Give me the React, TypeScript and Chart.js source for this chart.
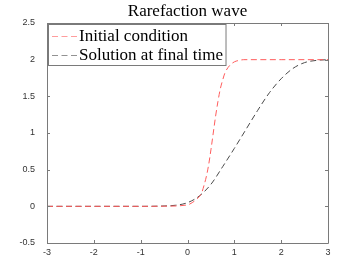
import React, { useEffect, useRef } from "react";
import { Chart, registerables } from "chart.js";

Chart.register(...registerables);

const titleText = "Rarefaction wave";
const seriesLabels = ["Initial condition", "Solution at final time"];
const seriesColors = ["#ff5c5c", "#4a4a4a"];

const initialX = [-3, -2, -1, -0.5, 0, 0.1, 0.2, 0.3, 0.35, 0.4, 0.45, 0.5, 0.55, 0.6, 0.65, 0.7, 0.75, 0.8, 0.9, 1.0, 1.1, 1.2, 1.5, 2, 3];
const initialY = [0, 0, 0, 0.002, 0.02, 0.05, 0.1, 0.18, 0.28, 0.4, 0.56, 0.77, 1.0, 1.23, 1.43, 1.6, 1.72, 1.82, 1.92, 1.97, 1.99, 2.0, 2.0, 2.0, 2.0];

const finalX = [-3, -2, -1, -0.5, -0.25, 0, 0.25, 0.5, 0.75, 1.0, 1.25, 1.5, 1.75, 2.0, 2.25, 2.5, 2.75, 3];
const finalY = [0, 0, 0, 0.005, 0.015, 0.05, 0.14, 0.3, 0.54, 0.79, 1.05, 1.31, 1.55, 1.74, 1.88, 1.96, 1.99, 2.0];

const xTicks = [-3, -2, -1, 0, 1, 2, 3];
const yTicks = [-0.5, 0, 0.5, 1, 1.5, 2, 2.5];

const axisColor = "#7a7a7a";
const serifFont = "'Liberation Serif', 'Times New Roman', serif";

const boxPlugin = {
  id: "matlabBox",
  afterDraw(chart: any) {
    const ctx = chart.ctx;
    const { left, right, top, bottom } = chart.chartArea;
    const xs = chart.scales.x;
    const ys = chart.scales.y;
    ctx.save();
    ctx.strokeStyle = axisColor;
    ctx.lineWidth = 1;
    ctx.beginPath();
    ctx.rect(left + 0.5, top + 0.5, right - left, bottom - top);
    ctx.stroke();
    const tl = 3;
    ctx.beginPath();
    xTicks.forEach((v) => {
      const px = Math.round(xs.getPixelForValue(v)) + 0.5;
      ctx.moveTo(px, bottom);
      ctx.lineTo(px, bottom - tl);
      ctx.moveTo(px, top);
      ctx.lineTo(px, top + tl);
    });
    yTicks.forEach((v) => {
      const py = Math.round(ys.getPixelForValue(v)) + 0.5;
      ctx.moveTo(left, py);
      ctx.lineTo(left + tl, py);
      ctx.moveTo(right, py);
      ctx.lineTo(right - tl, py);
    });
    ctx.stroke();

    // legend
    const font = "17px " + serifFont;
    ctx.font = font;
    const widths = seriesLabels.map((t) => ctx.measureText(t).width);
    const maxW = Math.max(...widths);
    const bx = left + 1.5;
    const by = top + 1.5;
    const textX = left + 32;
    const bw = textX - bx + maxW + 3;
    const bh = 41;
    ctx.fillStyle = "#ffffff";
    ctx.fillRect(bx, by, bw, bh);
    ctx.strokeStyle = axisColor;
    ctx.lineWidth = 1;
    ctx.strokeRect(bx, by, bw, bh);
    const rows = [by + 11, by + 30];
    chart.data.datasets.forEach((ds: any, i: number) => {
      const ry = Math.round(rows[i]) + 0.5;
      ctx.save();
      ctx.strokeStyle = ds.borderColor;
      ctx.globalAlpha = 0.6;
      ctx.lineWidth = 1;
      ctx.setLineDash([6, 3.5]);
      ctx.beginPath();
      ctx.moveTo(left + 5, ry);
      ctx.lineTo(left + 31, ry);
      ctx.stroke();
      ctx.restore();
      ctx.fillStyle = "#000000";
      ctx.textBaseline = "middle";
      ctx.textAlign = "left";
      ctx.font = font;
      ctx.fillText(ds.label, textX, rows[i] + 1);
    });
    ctx.restore();
  },
};

export default function App() {
  const ref = useRef<HTMLCanvasElement | null>(null);
  useEffect(() => {
    if (!ref.current) return;
    const chart = new Chart(ref.current, {
      type: "line",
      data: {
        datasets: [
          {
            label: seriesLabels[0],
            data: initialX.map((x, i) => ({ x, y: initialY[i] })),
            borderColor: seriesColors[0],
            borderWidth: 1,
            borderDash: [6, 3.5],
            pointRadius: 0,
            cubicInterpolationMode: "monotone",
            fill: false,
          },
          {
            label: seriesLabels[1],
            data: finalX.map((x, i) => ({ x, y: finalY[i] })),
            borderColor: seriesColors[1],
            borderWidth: 1,
            borderDash: [6, 3.5],
            pointRadius: 0,
            cubicInterpolationMode: "monotone",
            fill: false,
          },
        ],
      },
      options: {
        responsive: false,
        animation: false,
        devicePixelRatio: 1,
        layout: { padding: { left: 0, right: 35, top: 0, bottom: 0 } },
        plugins: {
          legend: { display: false },
          tooltip: { enabled: false },
          title: {
            display: true,
            text: titleText,
            fullSize: false,
            color: "#000000",
            font: { family: serifFont, size: 17, weight: "normal", lineHeight: "19px" },
            padding: { top: 2, bottom: 2 },
          },
        },
        scales: {
          x: {
            type: "linear",
            min: -3,
            max: 3,
            grid: { display: false },
            border: { display: false },
            afterBuildTicks: (s: any) => {
              s.ticks = xTicks.map((v) => ({ value: v }));
            },
            afterFit: (s: any) => {
              s.height = 30;
            },
            ticks: {
              autoSkip: false,
              maxRotation: 0,
              padding: -4,
              color: "#333333",
              font: { family: "'Liberation Sans', Arial, sans-serif", size: 9 },
              callback: (v: any) => String(v),
            },
          },
          y: {
            type: "linear",
            min: -0.5,
            max: 2.5,
            grid: { display: false },
            border: { display: false },
            afterBuildTicks: (s: any) => {
              s.ticks = yTicks.map((v) => ({ value: v }));
            },
            afterFit: (s: any) => {
              s.width = 47;
            },
            ticks: {
              autoSkip: false,
              padding: 4,
              color: "#333333",
              font: { family: "'Liberation Sans', Arial, sans-serif", size: 9 },
              callback: (v: any) => String(v),
            },
          },
        },
      },
      plugins: [boxPlugin],
    } as any);
    return () => chart.destroy();
  }, []);
  return (
    <div style={{ position: "fixed", left: 0, top: 0, width: 363, height: 273, background: "#ffffff" }}>
      <canvas ref={ref} width={363} height={273} style={{ display: "block" }} />
    </div>
  );
}
